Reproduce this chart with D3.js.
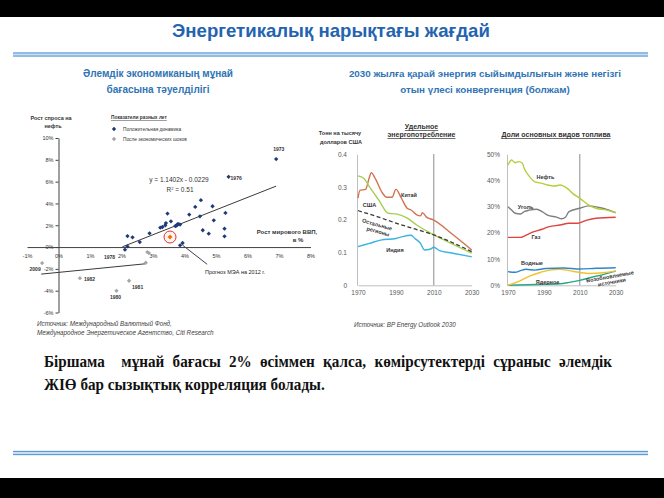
<!DOCTYPE html>
<html><head><meta charset="utf-8">
<script src="https://cdn.jsdelivr.net/npm/d3@7/dist/d3.min.js"></script>
<style>body{margin:0;background:#fff}svg{display:block}</style>
</head><body>
<svg id="c" width="664" height="498"></svg>
<script>
// ---------------- DATA ----------------
const pageTitle = "Энергетикалық нарықтағы жағдай";
const leftSubtitle = ["Әлемдік экономиканың мұнай", "бағасына тәуелділігі"];
const rightSubtitle = ["2030 жылға қарай энергия сыйымдылығын және негізгі", "отын үлесі конвергенция (болжам)"];

// Chart 1: oil demand growth vs world GDP growth (%)
const xTicks1 = [-1, 0, 1, 2, 3, 4, 5, 6, 7, 8];
const yTicks1 = [-6, -4, -2, 0, 2, 4, 6, 8, 10];
const positiveGdp    = [2.11, 2.19, 2.19, 2.35, 2.58, 2.89, 3.23, 3.30, 3.39, 3.41, 3.46, 3.57, 3.71, 3.75, 3.78, 3.82, 3.86, 3.86, 3.94, 4.15, 4.34, 4.49, 4.52, 4.58, 4.77, 4.89, 4.93, 5.27, 5.27, 5.30, 5.40, 6.91];
const positiveDemand = [-0.24, 0.06, 1.01, 0.89, 0.46, 1.26, 1.78, 1.84, 2.00, 2.20, 3.07, 2.36, 1.93, 1.98, 2.09, 2.10, 2.06, 0.16, 0.37, 2.98, 3.68, 2.82, 4.30, 1.54, 1.23, 3.74, 2.45, 1.69, 0.98, 3.13, 6.44, 8.07];
const shockGdp    = [-0.52, 0.68, 1.84, 2.24, 2.77, 2.82, 2.87];
const shockDemand = [-1.47, -2.85, -4.01, -3.09, -1.44, -0.46, -0.55];
const forecastGdp = [3.54], forecastDemand = [0.92];
const fitSlope = 1.1402, fitIntercept = -2.29;     // y = 1.1402x - 0.0229
const fitRange = [2.03, 6.91];
const shockFitGdp = [-0.55, 2.77], shockFitDemand = [-2.48, -1.53];
const yearLabels = ["1973", "1976", "1978", "2009", "1982", "1981", "1980"];
const yearLabelGdp = [6.91, 5.40, 1.62, -0.52, 0.68, 2.24, 1.84];
const yearLabelDemand = [8.07, 6.44, -1.07, -1.47, -2.85, -3.09, -4.01];

// Chart 2: energy intensity (t per thousand USD)
const yTicks2 = [0, 0.1, 0.2, 0.3, 0.4];
const xTicksYears = [1970, 1990, 2010, 2030];
const chinaYears = [1970, 1971, 1974, 1976, 1977, 1979, 1983, 1985, 1988, 1990, 1993, 1996, 1998, 2001, 2003, 2004, 2006, 2010, 2020, 2030];
const chinaVals  = [0.266, 0.29, 0.293, 0.33, 0.344, 0.327, 0.281, 0.269, 0.269, 0.293, 0.265, 0.235, 0.23, 0.215, 0.212, 0.222, 0.209, 0.199, 0.155, 0.108];
const usaYears = [1970, 1973, 1976, 1981, 1986, 1990, 1996, 2001, 2010, 2020, 2030];
const usaVals  = [0.334, 0.327, 0.301, 0.26, 0.22, 0.218, 0.205, 0.184, 0.154, 0.126, 0.098];
const restYears = [1970, 1980, 1990, 2000, 2010, 2020, 2030];
const restVals  = [0.228, 0.21, 0.19, 0.172, 0.154, 0.13, 0.103];
const indiaYears = [1970, 1976, 1982, 1990, 1993, 1998, 2000, 2003, 2005, 2008, 2010, 2013, 2020, 2030];
const indiaVals  = [0.118, 0.128, 0.138, 0.143, 0.148, 0.153, 0.143, 0.128, 0.108, 0.11, 0.116, 0.106, 0.098, 0.087];

// Chart 3: shares of main fuels (%)
const yTicks3 = [0, 10, 20, 30, 40, 50];
const oilYears = [1970, 1972, 1974, 1976, 1978, 1979, 1982, 1985, 1989, 1992, 1996, 1999, 2003, 2006, 2010, 2015, 2019, 2025, 2030];
const oilVals  = [45.9, 47.8, 46.8, 47.2, 46.6, 44.7, 41.5, 39.5, 38.9, 38.3, 37.9, 38.3, 37.0, 35.1, 33.2, 30.6, 29.4, 28.7, 27.7];
const coalYears = [1970, 1972, 1974, 1977, 1979, 1982, 1986, 1989, 1992, 1997, 2000, 2002, 2004, 2010, 2015, 2020, 2025, 2030];
const coalVals  = [30.0, 28.7, 27.5, 27.2, 28.1, 28.7, 29.0, 28.1, 26.8, 26.0, 25.4, 26.0, 28.1, 29.4, 30.3, 29.8, 29.0, 27.7];
const gasYears = [1970, 1977, 1979, 1983, 1989, 1993, 1999, 2004, 2009, 2014, 2019, 2030];
const gasVals  = [18.3, 18.3, 18.8, 20.1, 21.4, 22.4, 23.0, 23.7, 23.7, 24.9, 25.6, 26.0];
const hydroYears = [1970, 1974, 1977, 1980, 1985, 1991, 2001, 2010, 2019, 2030];
const hydroVals  = [5.2, 5.0, 5.6, 6.1, 5.8, 6.4, 6.6, 6.2, 6.5, 6.7];
const nuclearYears = [1970, 1977, 1982, 1988, 1993, 1999, 2004, 2010, 2015, 2023, 2030];
const nuclearVals  = [0.0, 1.8, 3.5, 4.9, 5.8, 6.1, 5.6, 4.9, 4.5, 4.8, 5.5];
const renewYears = [1970, 1986, 1999, 2004, 2010, 2015, 2023, 2030];
const renewVals  = [0.0, 0.3, 0.6, 1.1, 1.9, 2.8, 4.1, 5.4];

const bodyLine1 = ["Біршама", "мұнай", "бағасы", "2%", "өсіммен", "қалса,", "көмірсутектерді", "сұраныс", "әлемдік"];
const bodyLine2 = "ЖІӨ бар сызықтық корреляция болады.";

// ---------------- DRAW ----------------
const SANS = "'Liberation Sans', Arial, sans-serif";
const svg = d3.select("#c");
svg.append("rect").attr("width", 664).attr("height", 498).attr("fill", "#fff");
svg.append("rect").attr("x", 0).attr("y", 0).attr("width", 664).attr("height", 17).attr("fill", "#000");
svg.append("rect").attr("x", 0).attr("y", 478).attr("width", 664).attr("height", 20).attr("fill", "#000");

function doubleRule(y) {
  svg.append("rect").attr("x", 13).attr("y", y).attr("width", 635).attr("height", 5).attr("fill", "#c9def3");
  svg.append("line").attr("x1", 13).attr("x2", 648).attr("y1", y + 1).attr("y2", y + 1).attr("stroke", "#5b9bd5").attr("stroke-width", 1);
  svg.append("line").attr("x1", 13).attr("x2", 648).attr("y1", y + 4).attr("y2", y + 4).attr("stroke", "#5b9bd5").attr("stroke-width", 1);
}
doubleRule(52);
doubleRule(450.5);

svg.append("text").attr("x", 331).attr("y", 36.5).attr("text-anchor", "middle")
  .attr("font-family", SANS).attr("font-size", 18.6).attr("font-weight", "bold").attr("fill", "#2363b0").text(pageTitle);

leftSubtitle.forEach((t, i) => svg.append("text").attr("x", 158).attr("y", 77 + i * 15.5).attr("text-anchor", "middle")
  .attr("font-family", SANS).attr("font-size", 10).attr("font-weight", "bold").attr("fill", "#2f74b5").text(t));
rightSubtitle.forEach((t, i) => svg.append("text").attr("x", 485).attr("y", 77 + i * 15.5).attr("text-anchor", "middle")
  .attr("font-family", SANS).attr("font-size", 9.8).attr("font-weight", "bold").attr("fill", "#2f74b5").text(t));

// ---- Chart 1 ----
const sx = d3.scaleLinear().domain([-1, 8]).range([27, 310.5]);
const sy = d3.scaleLinear().domain([-6, 10]).range([312.5, 138]);
const g1 = svg.append("g").attr("font-family", SANS);

const yAx = g1.append("g").attr("transform", `translate(${sx(0)},0)`)
  .call(d3.axisLeft(sy).tickValues(yTicks1).tickFormat(d => d + "%").tickSize(3).tickSizeOuter(0).tickPadding(2));
yAx.selectAll("text").attr("font-size", 5.5).attr("fill", "#333").attr("font-family", SANS);
yAx.selectAll("line,path").attr("stroke", "#404040");

const xAx = g1.append("g").attr("transform", `translate(0,${sy(0)})`)
  .call(d3.axisBottom(sx).tickValues(xTicks1).tickFormat(d => d + "%").tickSize(0).tickSizeOuter(0).tickPadding(7));
xAx.selectAll("text").attr("font-size", 5.5).attr("fill", "#333").attr("font-family", SANS);
xAx.select("path").attr("stroke", "#404040");

// regression lines
g1.append("line").attr("x1", sx(fitRange[0])).attr("y1", sy(fitSlope * fitRange[0] + fitIntercept))
  .attr("x2", sx(fitRange[1])).attr("y2", sy(fitSlope * fitRange[1] + fitIntercept)).attr("stroke", "#3a3a3a").attr("stroke-width", 1);
g1.append("line").attr("x1", sx(shockFitGdp[0])).attr("y1", sy(shockFitDemand[0]))
  .attr("x2", sx(shockFitGdp[1])).attr("y2", sy(shockFitDemand[1])).attr("stroke", "#3a3a3a").attr("stroke-width", 1);

const diamond = d3.symbol().type(d3.symbolDiamond2).size(12);
g1.selectAll(".sh").data(shockGdp).join("path").attr("d", diamond)
  .attr("transform", (d, i) => `translate(${sx(d)},${sy(shockDemand[i])})`).attr("fill", "#a6a6a6");
g1.selectAll(".pos").data(positiveGdp).join("path").attr("d", diamond)
  .attr("transform", (d, i) => `translate(${sx(d)},${sy(positiveDemand[i])})`).attr("fill", "#1f3a78");

// forecast
forecastGdp.forEach((d, i) => {
  g1.append("circle").attr("cx", sx(d)).attr("cy", sy(forecastDemand[i])).attr("r", 6).attr("fill", "#fff5f0").attr("stroke", "#e0303a").attr("stroke-width", 1);
  g1.append("path").attr("d", d3.symbol().type(d3.symbolDiamond2).size(16)).attr("transform", `translate(${sx(d)},${sy(forecastDemand[i])})`).attr("fill", "#e8740c");
});
g1.append("line").attr("x1", sx(3.94)).attr("y1", sy(0.17)).attr("x2", sx(4.72)).attr("y2", sy(-1.58)).attr("stroke", "#404040").attr("stroke-width", 1);
g1.append("text").attr("x", 205).attr("y", 274).attr("font-size", 5.5).attr("fill", "#222").text("Прогноз МЭА на 2012 г.");

// year labels
const labelOff = {"1973": [-3, -8, "start"], "1976": [2, 3, "start"], "1978": [0, 0, "middle"], "2009": [-7, 8, "middle"], "1982": [4, 3, "start"], "1981": [3, 8, "start"], "1980": [-1, 8, "middle"]};
yearLabels.forEach((t, i) => {
  const o = labelOff[t];
  g1.append("text").attr("x", sx(yearLabelGdp[i]) + o[0]).attr("y", sy(yearLabelDemand[i]) + o[1])
    .attr("text-anchor", o[2]).attr("font-size", 5).attr("font-weight", "bold").attr("fill", "#333").text(t);
});

g1.append("text").attr("x", 179).attr("y", 182).attr("text-anchor", "middle").attr("font-size", 6.5).attr("fill", "#333").text("y = 1.1402x - 0.0229");
const r2 = g1.append("text").attr("x", 180).attr("y", 192).attr("text-anchor", "middle").attr("font-size", 6.5).attr("fill", "#333");
r2.append("tspan").text("R");
r2.append("tspan").attr("font-size", 4).attr("dy", -2.5).text("2");
r2.append("tspan").attr("dy", 2.5).text(" = 0.51");

g1.append("text").attr("x", 51).attr("y", 120).attr("text-anchor", "middle").attr("font-size", 5.5).attr("font-weight", "bold").attr("fill", "#333").text("Рост спроса на");
g1.append("text").attr("x", 53).attr("y", 128).attr("text-anchor", "middle").attr("font-size", 5.5).attr("font-weight", "bold").attr("fill", "#333").text("нефть");
g1.append("text").attr("x", 287).attr("y", 233.5).attr("text-anchor", "middle").attr("font-size", 6).attr("font-weight", "bold").attr("fill", "#333").text("Рост мирового ВВП,");
g1.append("text").attr("x", 298).attr("y", 242).attr("text-anchor", "middle").attr("font-size", 6).attr("font-weight", "bold").attr("fill", "#333").text("в %");

// legend
g1.append("text").attr("x", 111).attr("y", 119).attr("font-size", 4.8).attr("font-weight", "bold").attr("fill", "#333").attr("text-decoration", "underline").text("Показатели разных лет");
g1.append("path").attr("d", diamond).attr("transform", "translate(114,129)").attr("fill", "#1f3a78");
g1.append("text").attr("x", 123).attr("y", 130.5).attr("font-size", 4.8).attr("fill", "#333").text("Положительная динамика");
g1.append("path").attr("d", diamond).attr("transform", "translate(114,139)").attr("fill", "#a6a6a6");
g1.append("text").attr("x", 123).attr("y", 140.5).attr("font-size", 4.8).attr("fill", "#333").text("После экономических шоков");

// sources
svg.append("text").attr("x", 37).attr("y", 325.5).attr("font-family", SANS).attr("font-style", "italic").attr("font-size", 6.3).attr("fill", "#404040").text("Источник: Международный Валютный Фонд,");
svg.append("text").attr("x", 37).attr("y", 334.5).attr("font-family", SANS).attr("font-style", "italic").attr("font-size", 6.3).attr("fill", "#404040").text("Международное Энергетическое Агентство, Citi Research");
svg.append("text").attr("x", 354).attr("y", 326.5).attr("font-family", SANS).attr("font-style", "italic").attr("font-size", 6.3).attr("fill", "#404040").text("Источник: BP Energy Outlook 2030");

// ---- Line chart helper ----
function lineChart(x0, x1, yDomain, yTicks, fmt, tickPad) {
  const x = d3.scaleLinear().domain([1970, 2030]).range([x0, x1]);
  const y = d3.scaleLinear().domain(yDomain).range([285.3, 154.3]);
  const g = svg.append("g").attr("font-family", SANS);
  const ya = g.append("g").attr("transform", `translate(${x0 - 1},0)`)
    .call(d3.axisLeft(y).tickValues(yTicks).tickFormat(fmt).tickSize(0).tickPadding(tickPad));
  ya.selectAll("text").attr("font-size", 6.5).attr("fill", "#595959").attr("font-family", SANS);
  ya.select("path").attr("stroke", "#bfbfbf");
  const xa = g.append("g").attr("transform", `translate(0,285.3)`)
    .call(d3.axisBottom(x).tickValues(xTicksYears).tickFormat(d3.format("d")).tickSize(0).tickPadding(5));
  xa.selectAll("text").attr("font-size", 6.5).attr("fill", "#595959").attr("font-family", SANS);
  xa.select("path").attr("stroke", "#bfbfbf");
  g.append("line").attr("x1", x(2010)).attr("x2", x(2010)).attr("y1", 154).attr("y2", 285.3).attr("stroke", "#8c8c8c").attr("stroke-width", 1);
  return {x, y, g};
}
function series(c, yrs, vals, color, w, dash) {
  const line = d3.line().x(d => c.x(d[0])).y(d => c.y(d[1])).curve(d3.curveMonotoneX);
  c.g.append("path").attr("d", line(yrs.map((yy, i) => [yy, vals[i]]))).attr("fill", "none")
    .attr("stroke", color).attr("stroke-width", w).attr("stroke-dasharray", dash || null);
}
function lbl(g, x, y, t, rot) {
  g.append("text").attr("transform", `translate(${x},${y}) rotate(${rot || 0})`).attr("text-anchor", "middle")
    .attr("dominant-baseline", "middle").attr("font-size", 5.5).attr("font-weight", "bold").attr("fill", "#333").text(t);
}

// ---- Chart 2 ----
const c2 = lineChart(358, 471.7, [0, 0.4], yTicks2, d => d === 0 ? "0" : d3.format(".1f")(d), 10);
series(c2, chinaYears, chinaVals, "#d0734f", 1.4);
series(c2, usaYears, usaVals, "#a6cf52", 1.4);
series(c2, indiaYears, indiaVals, "#3bb3df", 1.4);
series(c2, restYears, restVals, "#3a3a3a", 1.3, "4,2.5");
lbl(c2.g, 409, 196, "Китай");
lbl(c2.g, 369.5, 205.5, "США");
lbl(c2.g, 377, 225, "Остальные", 16);
lbl(c2.g, 378, 232, "регионы", 16);
lbl(c2.g, 395, 250.5, "Индия");
c2.g.append("text").attr("x", 421.5).attr("y", 129).attr("text-anchor", "middle").attr("font-size", 7).attr("font-weight", "bold").attr("fill", "#333").attr("text-decoration", "underline").text("Удельное");
c2.g.append("text").attr("x", 421.5).attr("y", 137).attr("text-anchor", "middle").attr("font-size", 7).attr("font-weight", "bold").attr("fill", "#333").attr("text-decoration", "underline").text("энергопотребление");
c2.g.append("text").attr("x", 340).attr("y", 135).attr("text-anchor", "middle").attr("font-size", 5.5).attr("font-weight", "bold").attr("fill", "#333").text("Тонн на тысячу");
c2.g.append("text").attr("x", 341).attr("y", 143.5).attr("text-anchor", "middle").attr("font-size", 5.5).attr("font-weight", "bold").attr("fill", "#333").text("долларов США");

// ---- Chart 3 ----
const c3 = lineChart(508, 615.7, [0, 50], yTicks3, d => d + "%", 7);
series(c3, renewYears, renewVals, "#2aa58a", 1.4);
series(c3, nuclearYears, nuclearVals, "#f2c12e", 1.4);
series(c3, hydroYears, hydroVals, "#2f86c6", 1.4);
series(c3, gasYears, gasVals, "#e0423e", 1.4);
series(c3, coalYears, coalVals, "#7f7f7f", 1.4);
series(c3, oilYears, oilVals, "#b3cf3a", 1.4);
lbl(c3.g, 545.5, 178, "Нефть");
lbl(c3.g, 525.5, 208, "Уголь");
lbl(c3.g, 536, 237.5, "Газ");
lbl(c3.g, 532, 264, "Водные");
lbl(c3.g, 547.5, 282.5, "Ядерное");
lbl(c3.g, 610, 277, "Возобновляемые", -10);
lbl(c3.g, 612, 282.5, "источники", -10);
c3.g.append("text").attr("x", 556).attr("y", 137).attr("text-anchor", "middle").attr("font-size", 7).attr("font-weight", "bold").attr("fill", "#333").attr("text-decoration", "underline").text("Доли основных видов топлива");

// ---- Body text ----
const SERIF = "'Liberation Serif', 'Times New Roman', serif";
const bodyScale = 0.947, left = 44, right = 612;
const bt = svg.append("g").attr("transform", `translate(${left},0) scale(${bodyScale},1)`)
  .attr("font-family", SERIF).attr("font-size", 16).attr("font-weight", "bold").attr("fill", "#111");
const words = bodyLine1.map(w => bt.append("text").attr("y", 367.5).text(w));
const widths = words.map(t => t.node().getComputedTextLength());
const total = widths.reduce((a, b) => a + b, 0);
const gapUnits = (bodyLine1.length - 1) + 1; // first gap is a double space
const unit = ((right - left) / bodyScale - total) / gapUnits;
let cx = 0;
words.forEach((t, i) => { t.attr("x", cx); cx += widths[i] + unit * (i === 0 ? 2 : 1); });
bt.append("text").attr("x", 0).attr("y", 390).text(bodyLine2);
</script>
</body></html>
